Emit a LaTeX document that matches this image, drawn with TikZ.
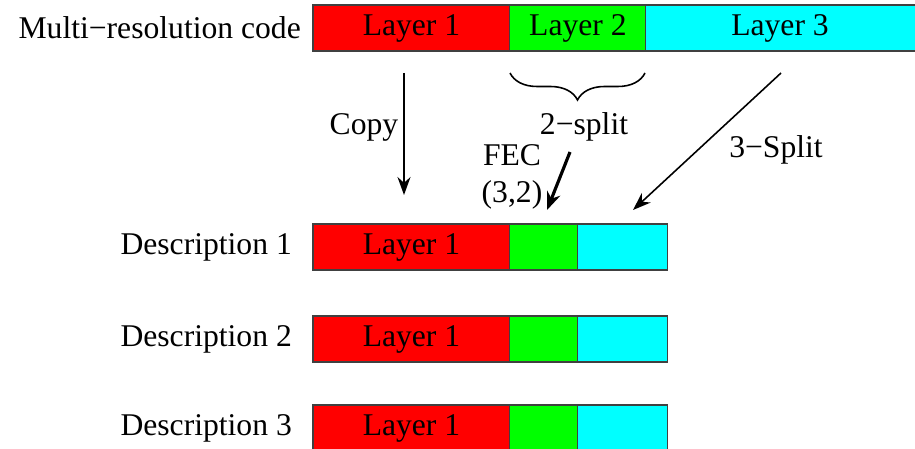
\documentclass[tikz,border=0pt]{standalone}
\usepackage{fontspec}
\setmainfont{Liberation Serif}
\usepackage{tikz}
\usetikzlibrary{arrows.meta, positioning, decorations.pathreplacing}
\definecolor{lred}{RGB}{255,0,0}
\definecolor{lgreen}{RGB}{0,255,0}
\definecolor{lcyan}{RGB}{0,255,255}

\begin{document}
\begin{tikzpicture}[x=0.02cm, y=-0.02cm, font=\fontsize{18}{21}\selectfont,
  seg/.style={rectangle, draw=black!75, line width=0.6pt, minimum height=0.92cm,
              inner sep=0pt, outer sep=0pt, anchor=north west},
  lay1/.style={seg, fill=lred, minimum width=3.94cm},
  lay2/.style={seg, fill=lgreen, minimum width=2.72cm},
  lay3/.style={seg, fill=lcyan, minimum width=5.6cm},
  sub2/.style={seg, fill=lgreen, minimum width=1.36cm},
  sub3/.style={seg, fill=lcyan, minimum width=1.8cm},
  a/.style={-{Stealth[length=3.6mm, width=2.6mm]}, line width=0.9pt},
  fat/.style={-{Stealth[length=3.6mm, width=2.8mm]}, line width=1.8pt},
  brc/.style={decorate, decoration={brace, amplitude=0.54cm, aspect=0.5}, line width=0.9pt}]
  \useasboundingbox (0,0) rectangle (915,449);
  % multi-resolution code
  \node[lay1] (t1) at (313,5) {Layer 1};
  \node[lay2] (t2) at (t1.north east) {Layer 2};
  \node[lay3] (t3) at (t2.north east) {};
  \node at (780,28) (t3l) {Layer 3};
  \node[left=0.12cm of t1] (mrc) {Multi−resolution code};
  % descriptions
  \foreach \i/\y in {1/224, 2/316, 3/405} {
    \node[lay1] (d\i a) at (313,\y) {Layer 1};
    \node[sub2] (d\i b) at (d\i a.north east) {};
    \node[sub3] (d\i c) at (d\i b.north east) {};
    \node[left=0.3cm of d\i a] (desc\i) {Description \i};
  }
  % arrows and labels
  \coordinate (cpA) at (404,73);
  \coordinate (cpB) at (404,195);
  \draw[a] (cpA) -- (cpB);
  \node (copy) at (364,127) {Copy};
  \coordinate (brR) at (645,73);
  \coordinate (brL) at (510,73);
  \draw[brc] (brR) -- (brL);
  \node (split2) at (584,127) {2−split};
  \coordinate (fecA) at (570,152);
  \coordinate (fecB) at (547,210);
  \draw[fat] (fecA) -- (fecB);
  \node[align=center, inner sep=0pt] (fec) at (512,177) {FEC\\(3,2)};
  \coordinate (s3A) at (781,73);
  \coordinate (s3B) at (633,210);
  \draw[a] (s3A) -- (s3B);
  \node (split3) at (776,150) {3−Split};
\end{tikzpicture}
\end{document}
